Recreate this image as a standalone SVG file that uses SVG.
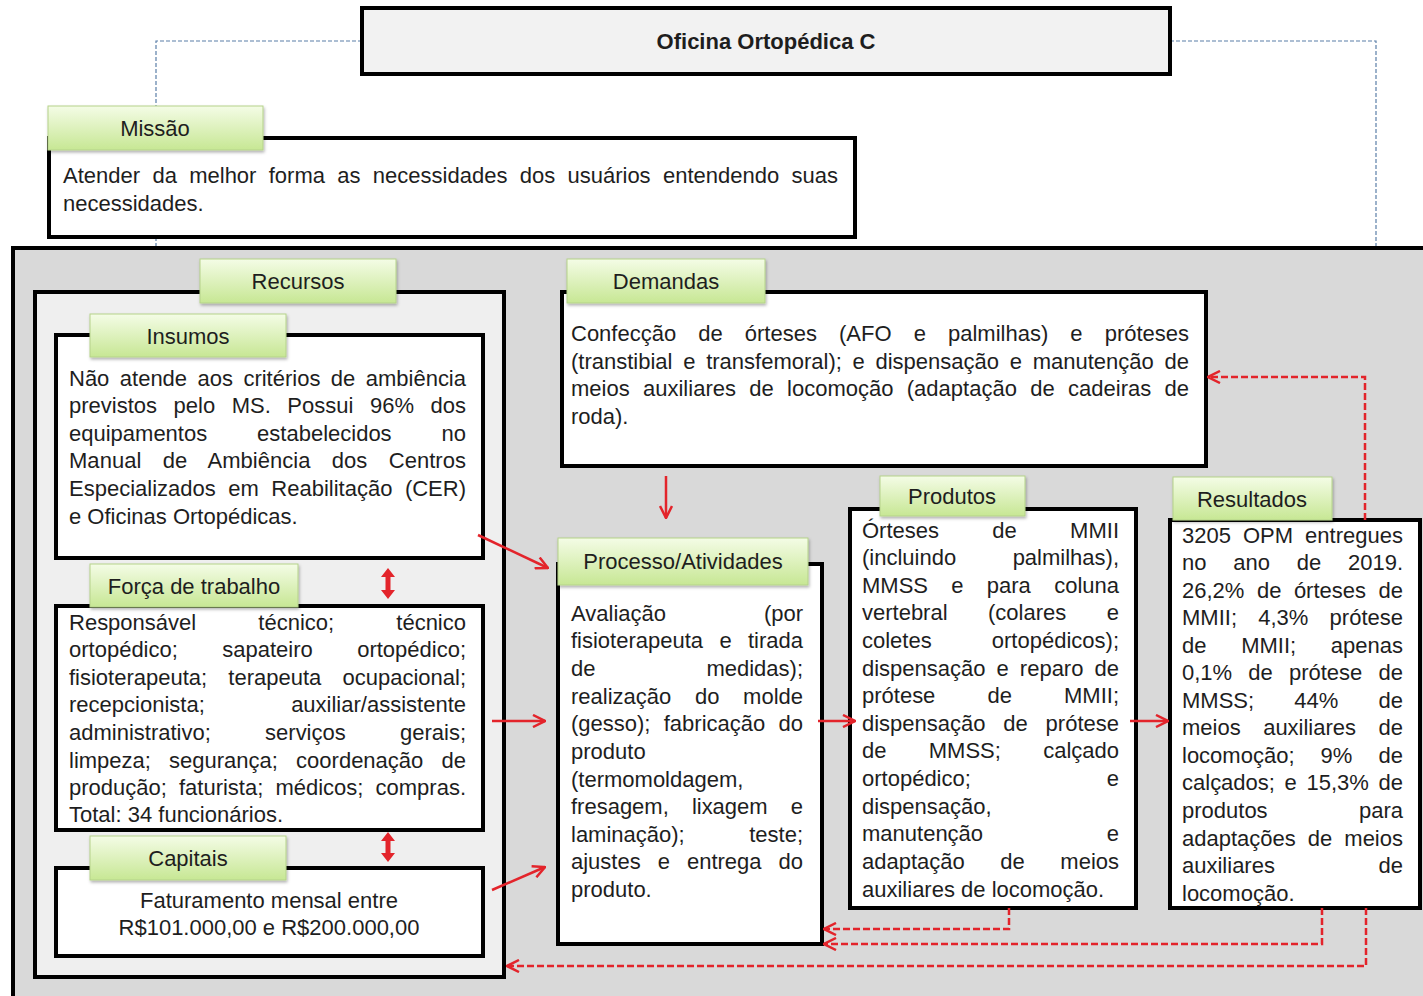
<svg xmlns="http://www.w3.org/2000/svg" width="1423" height="996" viewBox="0 0 1423 996">
<defs>
<linearGradient id="g" x1="0" y1="0" x2="0" y2="1">
<stop offset="0" stop-color="#f4fce6"/>
<stop offset="1" stop-color="#c7e794"/>
</linearGradient>
<filter id="sh" x="-10%" y="-20%" width="130%" height="150%">
<feDropShadow dx="1" dy="2" stdDeviation="1.5" flood-color="#000" flood-opacity="0.3"/>
</filter>
<marker id="ah" viewBox="0 0 14 14" refX="13" refY="7" markerWidth="14" markerHeight="14" markerUnits="userSpaceOnUse" orient="auto">
<path d="M1,1 L13,7 L1,13" fill="none" stroke="#e3242b" stroke-width="2.5"/>
</marker>
</defs>
<style>
.t{font-family:"Liberation Sans",Arial,sans-serif;font-size:22px;fill:#1e1e1e}
.e{text-anchor:end}
.m{text-anchor:middle}
.box{fill:#fff;stroke:#000;stroke-width:4}
.lbl{fill:url(#g);stroke:#b5d28a;stroke-width:1;filter:url(#sh)}
.blue{fill:none;stroke:#5b7fa8;stroke-width:1.2;stroke-dasharray:4 2}
.ar{fill:none;stroke:#e3242b;stroke-width:2.5;marker-end:url(#ah)}
.da{fill:none;stroke:#e3242b;stroke-width:2.5;stroke-dasharray:7 3;marker-end:url(#ah)}
.dbl{fill:#e3242b}
</style>
<rect width="1423" height="996" fill="#fff"/>
<g id="frame-connectors">
<path class="blue" d="M362,41 L156,41 L156,248"/>
<path class="blue" d="M1170,41 L1376,41 L1376,248"/>
</g>
<g id="title">
<rect x="362" y="8" width="808" height="66" fill="#f2f2f2" stroke="#000" stroke-width="4"/>
<text class="t m" x="766" y="49" style="font-weight:bold">Oficina Ortopédica C</text>
</g>
<g id="missao">
<rect class="box" x="49" y="138" width="806" height="99"/>
<rect class="lbl" x="48" y="106" width="215" height="44"/>
<text class="t m" x="155" y="136">Missão</text>
<text class="t" x="63" y="183" word-spacing="6.2" textLength="775">Atender da melhor forma as necessidades dos usuários entendendo suas</text>
<text class="t" x="63" y="211">necessidades.</text>
</g>
<g id="outer">
<rect x="13" y="248" width="1420" height="760" fill="#d9d9d9" stroke="#000" stroke-width="4"/>
</g>
<g id="recursos">
<rect x="35" y="292" width="469" height="685" fill="#efefef" stroke="#000" stroke-width="4"/>
<rect class="lbl" x="200" y="259" width="196" height="44"/>
<text class="t m" x="298" y="289">Recursos</text>
</g>
<g id="insumos">
<rect class="box" x="56" y="335" width="427" height="223"/>
<rect class="lbl" x="90" y="314" width="196" height="43"/>
<text class="t m" x="188" y="344">Insumos</text>
<text class="t" x="69" y="386" word-spacing="4.3" textLength="397">Não atende aos critérios de ambiência</text>
<text class="t" x="69" y="413" word-spacing="10.4" textLength="397">previstos pelo MS. Possui 96% dos</text>
<text class="t" x="69" y="441" word-spacing="43.8" textLength="397">equipamentos estabelecidos no</text>
<text class="t" x="69" y="468" word-spacing="15.2" textLength="397">Manual de Ambiência dos Centros</text>
<text class="t" x="69" y="496" word-spacing="6.4" textLength="397">Especializados em Reabilitação (CER)</text>
<text class="t" x="69" y="524">e Oficinas Ortopédicas.</text>
</g>
<g id="forca">
<rect class="box" x="56" y="606" width="427" height="224"/>
<rect class="lbl" x="90" y="564" width="208" height="43"/>
<text class="t m" x="194" y="594">Força de trabalho</text>
<text class="t" x="69" y="630" word-spacing="56" textLength="397">Responsável técnico; técnico</text>
<text class="t" x="69" y="657" word-spacing="38.3" textLength="397">ortopédico; sapateiro ortopédico;</text>
<text class="t" x="69" y="685" word-spacing="15.1" textLength="397">fisioterapeuta; terapeuta ocupacional;</text>
<text class="t" x="69" y="712">recepcionista;</text><text class="t e" x="466" y="712">auxiliar/assistente</text>
<text class="t" x="69" y="740" word-spacing="48.1" textLength="397">administrativo; serviços gerais;</text>
<text class="t" x="69" y="768" word-spacing="12.1" textLength="397">limpeza; segurança; coordenação de</text>
<text class="t" x="69" y="795" word-spacing="6" textLength="397">produção; faturista; médicos; compras.</text>
<text class="t" x="69" y="822">Total: 34 funcionários.</text>
</g>
<g id="capitais">
<rect class="box" x="56" y="868" width="427" height="88"/>
<rect class="lbl" x="90" y="836" width="196" height="44"/>
<text class="t m" x="188" y="866">Capitais</text>
<text class="t m" x="269" y="908">Faturamento mensal entre</text>
<text class="t m" x="269" y="935">R$101.000,00 e R$200.000,00</text>
</g>
<g id="demandas">
<rect class="box" x="562" y="292" width="644" height="174"/>
<rect class="lbl" x="567" y="259" width="198" height="44"/>
<text class="t m" x="666" y="289">Demandas</text>
<text class="t" x="571" y="341" word-spacing="16" textLength="618">Confecção de órteses (AFO e palmilhas) e próteses</text>
<text class="t" x="571" y="369" word-spacing="4.6" textLength="618">(transtibial e transfemoral); e dispensação e manutenção de</text>
<text class="t" x="571" y="396" word-spacing="7.2" textLength="618">meios auxiliares de locomoção (adaptação de cadeiras de</text>
<text class="t" x="571" y="424">roda).</text>
</g>
<g id="processo">
<rect class="box" x="558" y="564" width="264" height="380"/>
<rect class="lbl" x="558" y="538" width="250" height="47"/>
<text class="t m" x="683" y="569">Processo/Atividades</text>
<text class="t" x="571" y="621">Avaliação</text><text class="t e" x="803" y="621">(por</text>
<text class="t" x="571" y="648" word-spacing="10.2" textLength="232">fisioterapeuta e tirada</text>
<text class="t" x="571" y="676">de</text><text class="t e" x="803" y="676">medidas);</text>
<text class="t" x="571" y="704" word-spacing="17.6" textLength="232">realização do molde</text>
<text class="t" x="571" y="731" word-spacing="7.2" textLength="232">(gesso); fabricação do</text>
<text class="t" x="571" y="759">produto</text>
<text class="t" x="571" y="787">(termomoldagem,</text>
<text class="t" x="571" y="814" word-spacing="17" textLength="232">fresagem, lixagem e</text>
<text class="t" x="571" y="842">laminação);</text><text class="t e" x="803" y="842">teste;</text>
<text class="t" x="571" y="869" word-spacing="10.9" textLength="232">ajustes e entrega do</text>
<text class="t" x="571" y="897">produto.</text>
</g>
<g id="produtos">
<rect class="box" x="850" y="509" width="286" height="399"/>
<rect class="lbl" x="880" y="476" width="145" height="40"/>
<text class="t m" x="952" y="504">Produtos</text>
<text class="t" x="862" y="538" word-spacing="47.2" textLength="257">Órteses de MMII</text>
<text class="t" x="862" y="565">(incluindo</text><text class="t e" x="1119" y="565">palmilhas),</text>
<text class="t" x="862" y="593" word-spacing="17.2" textLength="257">MMSS e para coluna</text>
<text class="t" x="862" y="620" word-spacing="34.4" textLength="257">vertebral (colares e</text>
<text class="t" x="862" y="648">coletes</text><text class="t e" x="1119" y="648">ortopédicos);</text>
<text class="t" x="862" y="676" word-spacing="5" textLength="257">dispensação e reparo de</text>
<text class="t" x="862" y="703" word-spacing="46" textLength="257">prótese de MMII;</text>
<text class="t" x="862" y="731" word-spacing="11.7" textLength="257">dispensação de prótese</text>
<text class="t" x="862" y="758" word-spacing="36.2" textLength="257">de MMSS; calçado</text>
<text class="t" x="862" y="786">ortopédico;</text><text class="t e" x="1119" y="786">e</text>
<text class="t" x="862" y="814">dispensação,</text>
<text class="t" x="862" y="841">manutenção</text><text class="t e" x="1119" y="841">e</text>
<text class="t" x="862" y="869" word-spacing="29.5" textLength="257">adaptação de meios</text>
<text class="t" x="862" y="897">auxiliares de locomoção.</text>
</g>
<g id="resultados">
<rect class="box" x="1170" y="520" width="250" height="388"/>
<rect class="lbl" x="1173" y="477" width="159" height="43"/>
<text class="t m" x="1252" y="507">Resultados</text>
<text class="t" x="1182" y="543" word-spacing="5.9" textLength="221">3205 OPM entregues</text>
<text class="t" x="1182" y="570" word-spacing="20.7" textLength="221">no ano de 2019.</text>
<text class="t" x="1182" y="598" word-spacing="6.4" textLength="221">26,2% de órteses de</text>
<text class="t" x="1182" y="625" word-spacing="15.1" textLength="221">MMII; 4,3% prótese</text>
<text class="t" x="1182" y="653" word-spacing="28.6" textLength="221">de MMII; apenas</text>
<text class="t" x="1182" y="680" word-spacing="10.1" textLength="221">0,1% de prótese de</text>
<text class="t" x="1182" y="708" word-spacing="34.1" textLength="221">MMSS; 44% de</text>
<text class="t" x="1182" y="735" word-spacing="16.4" textLength="221">meios auxiliares de</text>
<text class="t" x="1182" y="763" word-spacing="20" textLength="221">locomoção; 9% de</text>
<text class="t" x="1182" y="790" word-spacing="3.5" textLength="221">calçados; e 15,3% de</text>
<text class="t" x="1182" y="818">produtos</text><text class="t e" x="1403" y="818">para</text>
<text class="t" x="1182" y="846" word-spacing="5.9" textLength="221">adaptações de meios</text>
<text class="t" x="1182" y="873">auxiliares</text><text class="t e" x="1403" y="873">de</text>
<text class="t" x="1182" y="901">locomoção.</text>
</g>
<g id="connectors">
<path class="ar" d="M478,535 L548,568"/>
<path class="ar" d="M492,721 L545,721"/>
<path class="ar" d="M492,890 L545,867"/>
<path class="ar" d="M666,476 L666,518"/>
<path class="ar" d="M818,721 L855,721"/>
<path class="ar" d="M1130,721 L1168,721"/>
<path class="dbl" d="M388,568 L395,577 L390.5,577 L390.5,590 L395,590 L388,599 L381,590 L385.5,590 L385.5,577 L381,577 Z"/>
<path class="dbl" d="M388,832 L395,841 L390.5,841 L390.5,853 L395,853 L388,862 L381,853 L385.5,853 L385.5,841 L381,841 Z"/>
<path class="da" d="M1365,520 L1365,377 L1208,377"/>
<path class="da" d="M1009,908 L1009,929 L824,929"/>
<path class="da" d="M1322,908 L1322,944 L824,944"/>
<path class="da" d="M1366,908 L1366,966 L507,966"/>
</g>
</svg>
